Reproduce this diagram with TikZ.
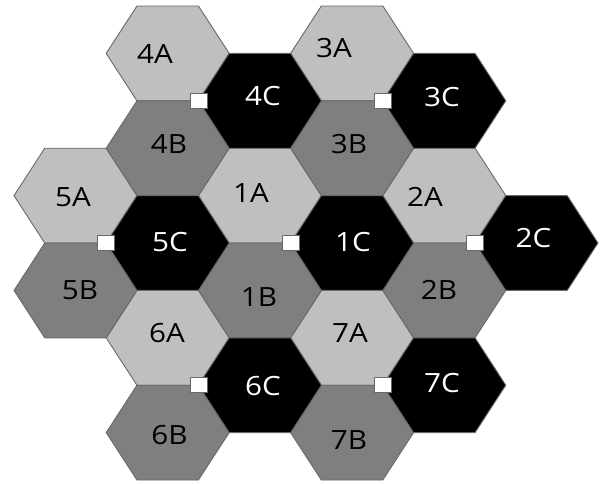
\documentclass[tikz,border=0pt]{standalone}
\usepackage{fontspec}
\newfontfamily\hexfont[FakeStretch=1.12]{Open Sans}
\definecolor{hexlight}{RGB}{191,191,191}
\definecolor{hexdark}{RGB}{127,127,127}
\definecolor{hexline}{RGB}{105,105,105}
\tikzset{
  hexcell/.style={draw=hexline, line width=0.9pt, line join=miter},
  hexlabel/.style={font=\hexfont\fontsize{26.5}{30}\selectfont, inner sep=0pt},
  lightlabel/.style={hexlabel, text=black},
  whitelabel/.style={hexlabel, text=white},
  portbox/.style={draw=hexline, fill=white, line width=0.8pt, minimum width=17pt, minimum height=15pt, inner sep=0pt}
}
\newcommand{\hexR}{61.5}
\newcommand{\hexH}{47.4}
% \hexcellat{cx}{cy}{fill}
\newcommand{\hexcellat}[3]{%
  \path[hexcell, fill=#3] (#1-\hexR,#2) -- (#1-\hexR/2,#2-\hexH) -- (#1+\hexR/2,#2-\hexH)
     -- (#1+\hexR,#2) -- (#1+\hexR/2,#2+\hexH) -- (#1-\hexR/2,#2+\hexH) -- cycle;}
\begin{document}
\begin{tikzpicture}[x=1pt,y=-1pt]
\useasboundingbox (0,0) rectangle (605,483);
\fill[white] (0,0) rectangle (605,483);
% column centres: 75.5 167.7 259.9 352.1 444.3 536.5
% light A cells
\hexcellat{167.7}{53.4}{hexlight}   % 4A
\hexcellat{352.1}{53.4}{hexlight}   % 3A
\hexcellat{75.5}{195.6}{hexlight}   % 5A
\hexcellat{259.9}{195.6}{hexlight}  % 1A
\hexcellat{444.3}{195.6}{hexlight}  % 2A
\hexcellat{167.7}{337.8}{hexlight}  % 6A
\hexcellat{352.1}{337.8}{hexlight}  % 7A
% dark B cells
\hexcellat{167.7}{148.2}{hexdark}   % 4B
\hexcellat{352.1}{148.2}{hexdark}   % 3B
\hexcellat{75.5}{290.4}{hexdark}    % 5B
\hexcellat{259.9}{290.4}{hexdark}   % 1B
\hexcellat{444.3}{290.4}{hexdark}   % 2B
\hexcellat{167.7}{432.6}{hexdark}   % 6B
\hexcellat{352.1}{432.6}{hexdark}   % 7B
% black C cells
\hexcellat{259.9}{100.8}{black}     % 4C
\hexcellat{444.3}{100.8}{black}     % 3C
\hexcellat{167.7}{243}{black}       % 5C
\hexcellat{352.1}{243}{black}       % 1C
\hexcellat{536.5}{243}{black}       % 2C
\hexcellat{259.9}{385.2}{black}     % 6C
\hexcellat{444.3}{385.2}{black}     % 7C
% labels
\node[lightlabel] (l4A) at (155,54) {4A};
\node[lightlabel] (l3A) at (334,48) {3A};
\node[lightlabel] (l5A) at (73,197) {5A};
\node[lightlabel] (l1A) at (251,193) {1A};
\node[lightlabel] (l2A) at (425,197) {2A};
\node[lightlabel] (l6A) at (167,333) {6A};
\node[lightlabel] (l7A) at (350,333) {7A};
\node[lightlabel] (l4B) at (169,144) {4B};
\node[lightlabel] (l3B) at (349,144) {3B};
\node[lightlabel] (l5B) at (80,290) {5B};
\node[lightlabel] (l1B) at (259,297) {1B};
\node[lightlabel] (l2B) at (439,290) {2B};
\node[lightlabel] (l6B) at (169.5,435) {6B};
\node[lightlabel] (l7B) at (349,440) {7B};
\node[whitelabel] (l4C) at (263,96) {4C};
\node[whitelabel] (l3C) at (442,97) {3C};
\node[whitelabel] (l5C) at (170,242) {5C};
\node[whitelabel] (l1C) at (353,242) {1C};
\node[whitelabel] (l2C) at (533.5,238) {2C};
\node[whitelabel] (l6C) at (263,386) {6C};
\node[whitelabel] (l7C) at (442,383) {7C};
% white port squares at the left vertex of each C cell
\node[portbox] (p4C) at (198.4,100.8) {};
\node[portbox] (p3C) at (382.8,100.8) {};
\node[portbox] (p5C) at (106.2,243) {};
\node[portbox] (p1C) at (290.6,243) {};
\node[portbox] (p2C) at (475,243) {};
\node[portbox] (p6C) at (198.4,385.2) {};
\node[portbox] (p7C) at (382.8,385.2) {};
\end{tikzpicture}
\end{document}
